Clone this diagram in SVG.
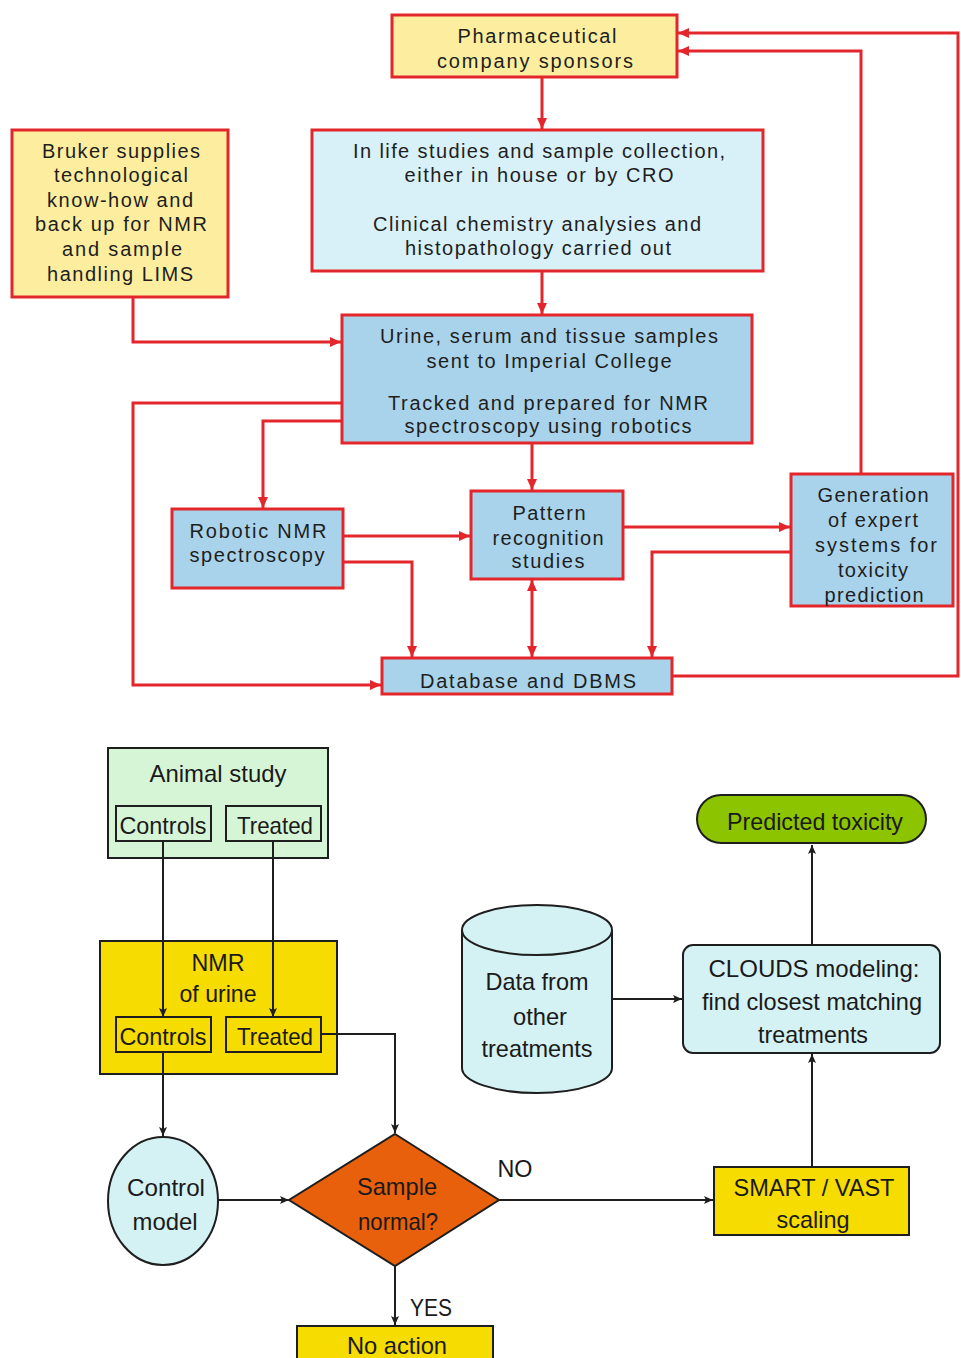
<svg xmlns="http://www.w3.org/2000/svg" width="961" height="1358" viewBox="0 0 961 1358">
<style>
.t{font-family:"Liberation Sans",Arial,sans-serif;font-size:20px;fill:#1e1e1e;text-anchor:middle}
.b{font-family:"Liberation Sans",Arial,sans-serif;font-size:24px;fill:#1a1a1a;text-anchor:middle}
.rb{stroke:#e3262b;stroke-width:3}
.yel{fill:#fcee9e}
.cy{fill:#d8f0f8}
.bl{fill:#a9d3ea}
.k{stroke:#1e1e1e;stroke-width:2}
.rc{fill:none;stroke:#e3262b;stroke-width:3}
.kc{fill:none;stroke:#1e1e1e;stroke-width:2}
</style>
<defs>
<marker id="ra" markerUnits="userSpaceOnUse" markerWidth="11" markerHeight="10" refX="11" refY="5" orient="auto-start-reverse">
<path d="M0,0 L11,5 L0,10 z" fill="#e3262b"/>
</marker>
<marker id="ka" markerUnits="userSpaceOnUse" markerWidth="9" markerHeight="8" refX="9" refY="4" orient="auto">
<path d="M0,0 L9,4 L0,8 L2,4 z" fill="#1e1e1e"/>
</marker>
</defs>
<rect width="961" height="1358" fill="#ffffff"/>

<g id="pharma">
<rect class="yel rb" x="392" y="15" width="285" height="62"/>
<text class="t" x="537" y="43" textLength="159">Pharmaceutical</text>
<text class="t" x="535" y="68" textLength="196">company sponsors</text>
</g>

<g id="inlife">
<rect class="cy rb" x="312" y="130" width="451" height="141"/>
<text class="t" x="539" y="158" textLength="372">In life studies and sample collection,</text>
<text class="t" x="539" y="182" textLength="269">either in house or by  CRO</text>
<text class="t" x="537" y="231" textLength="328">Clinical chemistry analysies and</text>
<text class="t" x="538" y="255" textLength="266">histopathology carried out</text>
</g>

<g id="bruker">
<rect class="yel rb" x="12" y="130" width="216" height="167"/>
<text class="t" x="121" y="158" textLength="158">Bruker supplies</text>
<text class="t" x="121" y="182" textLength="134">technological</text>
<text class="t" x="120" y="207" textLength="146">know-how and</text>
<text class="t" x="121" y="231" textLength="172">back up for NMR</text>
<text class="t" x="122" y="256" textLength="120">and sample</text>
<text class="t" x="120" y="281" textLength="146">handling LIMS</text>
</g>

<g id="urine">
<rect class="bl rb" x="342" y="315" width="410" height="128"/>
<text class="t" x="549" y="343" textLength="338">Urine, serum and tissue samples</text>
<text class="t" x="549" y="368" textLength="245">sent to Imperial College</text>
<text class="t" x="548" y="410" textLength="320">Tracked and prepared for NMR</text>
<text class="t" x="548" y="433" textLength="287">spectroscopy using robotics</text>
</g>

<g id="robotic">
<rect class="bl rb" x="172" y="509" width="171" height="79"/>
<text class="t" x="258" y="538" textLength="137">Robotic NMR</text>
<text class="t" x="257" y="562" textLength="135">spectroscopy</text>
</g>

<g id="pattern">
<rect class="bl rb" x="471" y="491" width="152" height="88"/>
<text class="t" x="549" y="520" textLength="73">Pattern</text>
<text class="t" x="548" y="545" textLength="111">recognition</text>
<text class="t" x="548" y="568" textLength="73">studies</text>
</g>

<g id="generation">
<rect class="bl rb" x="791" y="474" width="162" height="132"/>
<text class="t" x="873" y="502" textLength="111">Generation</text>
<text class="t" x="873" y="527" textLength="90">of expert</text>
<text class="t" x="876" y="552" textLength="122">systems for</text>
<text class="t" x="873" y="577" textLength="70">toxicity</text>
<text class="t" x="874" y="602" textLength="99">prediction</text>
</g>

<g id="database">
<rect class="bl rb" x="382" y="658" width="290" height="36"/>
<text class="t" x="528" y="688" textLength="216">Database and DBMS</text>
</g>

<g id="animal">
<rect x="108" y="748" width="220" height="110" fill="#d6f5d6" class="k"/>
<text class="b" x="218" y="782" textLength="137" lengthAdjust="spacingAndGlyphs">Animal study</text>
<rect x="116" y="806" width="95" height="35" fill="#d6f5d6" class="k"/>
<text class="b" x="163" y="834" textLength="87" lengthAdjust="spacingAndGlyphs">Controls</text>
<rect x="226" y="806" width="95" height="35" fill="#d6f5d6" class="k"/>
<text class="b" x="275" y="834" textLength="76" lengthAdjust="spacingAndGlyphs">Treated</text>
</g>

<g id="nmr">
<rect x="100" y="941" width="237" height="133" fill="#f6dc00" class="k"/>
<text class="b" x="218" y="971" textLength="53" lengthAdjust="spacingAndGlyphs">NMR</text>
<text class="b" x="218" y="1002" textLength="77" lengthAdjust="spacingAndGlyphs">of urine</text>
<rect x="116" y="1017" width="95" height="35" fill="#f6dc00" class="k"/>
<text class="b" x="163" y="1045" textLength="87" lengthAdjust="spacingAndGlyphs">Controls</text>
<rect x="226" y="1017" width="95" height="35" fill="#f6dc00" class="k"/>
<text class="b" x="275" y="1045" textLength="76" lengthAdjust="spacingAndGlyphs">Treated</text>
</g>

<g id="predicted">
<rect x="697" y="795" width="229" height="48" rx="24" ry="24" fill="#8cc400" class="k"/>
<text class="b" x="815" y="830" textLength="176" lengthAdjust="spacingAndGlyphs">Predicted toxicity</text>
</g>

<g id="datafrom">
<path d="M462,930 V1068 A75,25 0 0 0 612,1068 V930" fill="#d4f1f4" class="k"/>
<ellipse cx="537" cy="930" rx="75" ry="25" fill="#d4f1f4" class="k"/>
<text class="b" x="537" y="990" textLength="103" lengthAdjust="spacingAndGlyphs">Data from</text>
<text class="b" x="540" y="1025" textLength="54" lengthAdjust="spacingAndGlyphs">other</text>
<text class="b" x="537" y="1057" textLength="111" lengthAdjust="spacingAndGlyphs">treatments</text>
</g>

<g id="clouds">
<rect x="683" y="945" width="257" height="108" rx="10" ry="10" fill="#d4f1f4" class="k"/>
<text class="b" x="814" y="977" textLength="211" lengthAdjust="spacingAndGlyphs">CLOUDS modeling:</text>
<text class="b" x="812" y="1010" textLength="220" lengthAdjust="spacingAndGlyphs">find closest matching</text>
<text class="b" x="813" y="1043" textLength="110" lengthAdjust="spacingAndGlyphs">treatments</text>
</g>

<g id="control">
<ellipse cx="163" cy="1201" rx="55" ry="64" fill="#d4f1f4" class="k"/>
<text class="b" x="166" y="1196" textLength="78" lengthAdjust="spacingAndGlyphs">Control</text>
<text class="b" x="165" y="1230" textLength="65" lengthAdjust="spacingAndGlyphs">model</text>
</g>

<g id="sample">
<polygon points="395,1134 499,1200 395,1266 289,1200" fill="#e8600c" class="k"/>
<text class="b" x="397" y="1195" textLength="80" lengthAdjust="spacingAndGlyphs">Sample</text>
<text class="b" x="398" y="1230" textLength="80" lengthAdjust="spacingAndGlyphs">normal?</text>
</g>

<g id="labels">
<text class="b" x="515" y="1177" textLength="35" lengthAdjust="spacingAndGlyphs">NO</text>
<text class="b" x="431" y="1316" textLength="42" lengthAdjust="spacingAndGlyphs">YES</text>
</g>

<g id="smart">
<rect x="714" y="1167" width="195" height="68" fill="#f6dc00" class="k"/>
<text class="b" x="814" y="1196" textLength="161" lengthAdjust="spacingAndGlyphs">SMART / VAST</text>
<text class="b" x="813" y="1228" textLength="73" lengthAdjust="spacingAndGlyphs">scaling</text>
</g>

<g id="noaction">
<rect x="297" y="1326" width="196" height="40" fill="#f6dc00" class="k"/>
<text class="b" x="397" y="1354" textLength="100" lengthAdjust="spacingAndGlyphs">No action</text>
</g>

<g id="connectors">
<path class="rc" d="M542,77 V129" marker-end="url(#ra)"/>
<path class="rc" d="M542,271 V314" marker-end="url(#ra)"/>
<path class="rc" d="M133,297 V342 H341" marker-end="url(#ra)"/>
<path class="rc" d="M342,403 H133 V685 H381" marker-end="url(#ra)"/>
<path class="rc" d="M342,421 H263 V508" marker-end="url(#ra)"/>
<path class="rc" d="M532,443 V490" marker-end="url(#ra)"/>
<path class="rc" d="M343,536 H470" marker-end="url(#ra)"/>
<path class="rc" d="M343,562 H412 V657" marker-end="url(#ra)"/>
<path class="rc" d="M532,580 V657" marker-start="url(#ra)" marker-end="url(#ra)"/>
<path class="rc" d="M623,527 H790" marker-end="url(#ra)"/>
<path class="rc" d="M791,552 H652 V657" marker-end="url(#ra)"/>
<path class="rc" d="M861,473 V51 H678" marker-end="url(#ra)"/>
<path class="rc" d="M672,676 H958 V33 H678" marker-end="url(#ra)"/>

<path class="kc" d="M163,841 V1017" marker-end="url(#ka)"/>
<path class="kc" d="M273,841 V1017" marker-end="url(#ka)"/>
<path class="kc" d="M321,1034 H395 V1133" marker-end="url(#ka)"/>
<path class="kc" d="M163,1052 V1136" marker-end="url(#ka)"/>
<path class="kc" d="M218,1200 H289" marker-end="url(#ka)"/>
<path class="kc" d="M499,1200 H713" marker-end="url(#ka)"/>
<path class="kc" d="M812,1167 V1054" marker-end="url(#ka)"/>
<path class="kc" d="M812,945 V845" marker-end="url(#ka)"/>
<path class="kc" d="M612,999 H682" marker-end="url(#ka)"/>
<path class="kc" d="M395,1266 V1325" marker-end="url(#ka)"/>
</g>
</svg>
